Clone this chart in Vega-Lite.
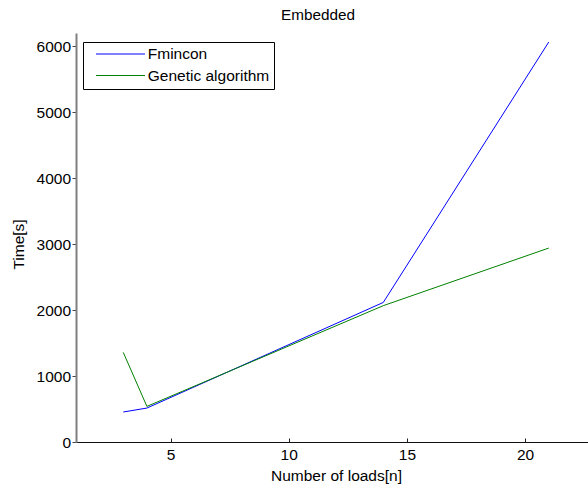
{
  "$schema": "https://vega.github.io/schema/vega-lite/v6.json",
  "width": 512,
  "height": 409,
  "autosize": {"type": "none"},
  "padding": {"left": 76, "top": 33, "right": 0, "bottom": 47},
  "background": "white",
  "title": {
    "text": "Embedded",
    "font": "Liberation Sans",
    "fontSize": 15.3,
    "fontWeight": "normal",
    "color": "black",
    "baseline": "alphabetic",
    "offset": -2,
    "dx": -14
  },
  "data": {
    "values": [
      {"n": 3, "method": "Fmincon", "time": 455},
      {"n": 4, "method": "Fmincon", "time": 515},
      {"n": 14, "method": "Fmincon", "time": 2117},
      {"n": 21, "method": "Fmincon", "time": 6067},
      {"n": 3, "method": "Genetic algorithm", "time": 1359},
      {"n": 4, "method": "Genetic algorithm", "time": 540},
      {"n": 14, "method": "Genetic algorithm", "time": 2068},
      {"n": 21, "method": "Genetic algorithm", "time": 2942}
    ]
  },
  "config": {
    "view": {"stroke": null},
    "font": "Liberation Sans",
    "axis": {"grid": false, "labelFont": "Liberation Sans", "titleFont": "Liberation Sans", "labelColor": "black", "titleColor": "black", "titleFontWeight": "normal"}
  },
  "mark": {"type": "line", "strokeWidth": 1, "clip": true},
  "encoding": {
    "x": {
      "field": "n",
      "type": "quantitative",
      "scale": {"domain": [1, 22.66], "nice": false, "zero": false},
      "axis": {
        "values": [5, 10, 15, 20],
        "format": "d",
        "title": "Number of loads[n]",
        "titleFontSize": 15.5,
        "titleY": 38.7,
        "titleX": 260,
        "titleBaseline": "alphabetic",
        "titleAlign": "center",
        "labelFontSize": 15.5,
        "labelPadding": 9,
        "tickSize": -4,
        "tickColor": "#222222",
        "domainColor": "#111111",
        "domainWidth": 1
      }
    },
    "y": {
      "field": "time",
      "type": "quantitative",
      "scale": {"domain": [0, 6204], "nice": false},
      "axis": {
        "values": [0, 1000, 2000, 3000, 4000, 5000, 6000],
        "format": "d",
        "title": "Time[s]",
        "titleFontSize": 15.5,
        "titleX": -52.7,
        "titleY": 211,
        "titleBaseline": "alphabetic",
        "titleAlign": "center",
        "labelFontSize": 15.5,
        "labelPadding": 1.5,
        "tickSize": 4,
        "tickColor": "#444444",
        "domainColor": "#808080",
        "domainWidth": 2
      }
    },
    "color": {
      "field": "method",
      "type": "nominal",
      "scale": {"domain": ["Fmincon", "Genetic algorithm"], "range": ["#0000ff", "#008000"]},
      "legend": {
        "title": null,
        "orient": "none",
        "legendX": 7,
        "legendY": 9,
        "symbolType": "M-4.9,0H4.9",
        "symbolSize": 100,
        "symbolStrokeWidth": 1,
        "symbolOffset": 25.5,
        "labelFontSize": 15.5,
        "labelFont": "Liberation Sans",
        "labelColor": "black",
        "labelOffset": 19.5,
        "rowPadding": 4.5,
        "padding": 4.25,
        "strokeColor": "black",
        "fillColor": "white"
      }
    }
  }
}
